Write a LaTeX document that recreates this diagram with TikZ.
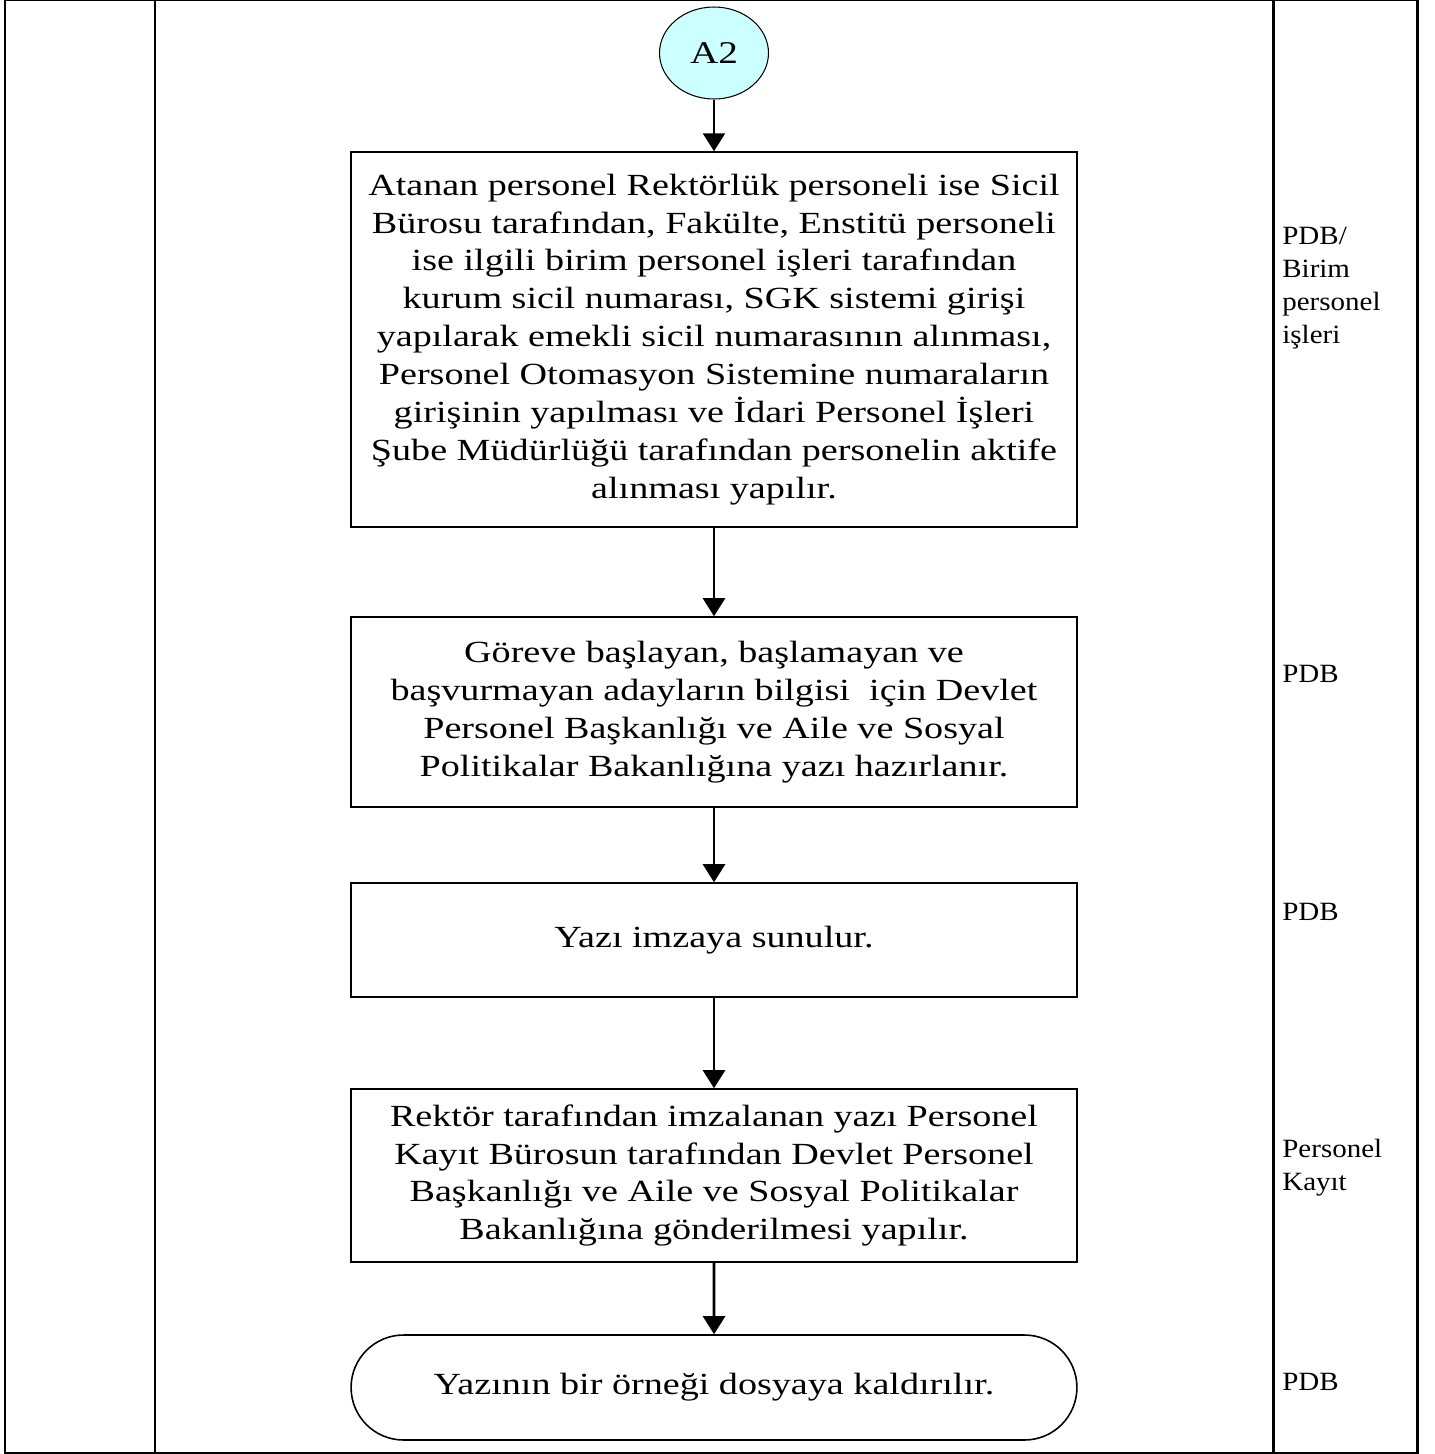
\documentclass[tikz,border=0pt]{standalone}
\usepackage{fontspec}
\setmainfont{Liberation Serif}
\newfontfamily\boxfont[FakeStretch=1.24]{Liberation Serif}
\newfontfamily\sidefont[FakeStretch=1.1]{Liberation Serif}
\usetikzlibrary{arrows.meta}
\usetikzlibrary{shapes.geometric}
\usetikzlibrary{shapes.misc}
\definecolor{connfill}{RGB}{204,255,255}

\begin{document}
\begin{tikzpicture}[x=0.02cm, y=-0.02cm,
    frame/.style={line width=1.7pt},
    process/.style={draw, line width=0.9pt, minimum width=14.52cm, inner sep=0pt,
        align=center, font=\boxfont\fontsize{17.5}{21.6}\selectfont},
    terminal/.style={process, rounded rectangle},
    connector/.style={draw, ellipse, line width=0.6pt, fill=connfill,
        minimum width=2.18cm, minimum height=1.84cm, font=\boxfont\fontsize{18}{21}\selectfont},
    flow/.style={line width=1.5pt, -{Triangle[length=0.36cm, width=0.44cm]}},
    who/.style={anchor=north west, inner sep=0pt, align=left,
        font=\sidefont\fontsize{15}{18.8}\selectfont}]
    \useasboundingbox (0, 0) rectangle (1434, 1454);
    % table frame
    \draw[frame] (5, 0) rectangle (1417, 1453);
    \draw[frame] (155, 0) -- (155, 1453);
    \draw[frame] (1273, 0) -- (1273, 1453);

    \node[connector] (a2) at (714, 53) {A2};
    \node[process, minimum height=7.5cm] (atama) at (714, 339.5)
        {Atanan personel Rektörlük personeli ise Sicil\\
         Bürosu tarafından, Fakülte, Enstitü personeli\\
         ise ilgili birim personel işleri tarafından\\
         kurum sicil numarası, SGK sistemi girişi\\
         yapılarak emekli sicil numarasının alınması,\\
         Personel Otomasyon Sistemine numaraların\\
         girişinin yapılması ve İdari Personel İşleri\\
         Şube Müdürlüğü tarafından personelin aktife\\
         alınması yapılır.};
    \node[process, minimum height=3.8cm] (yazi) at (714, 712)
        {Göreve başlayan, başlamayan ve\\
         başvurmayan adayların bilgisi \ için Devlet\\
         Personel Başkanlığı ve Aile ve Sosyal\\
         Politikalar Bakanlığına yazı hazırlanır.};
    \node[process, minimum height=2.28cm] (imza) at (714, 940) {Yazı imzaya sunulur.};
    \node[process, minimum height=3.46cm] (gonder) at (714, 1175.5)
        {Rektör tarafından imzalanan yazı Personel\\
         Kayıt Bürosun tarafından Devlet Personel\\
         Başkanlığı ve Aile ve Sosyal Politikalar\\
         Bakanlığına gönderilmesi yapılır.};
    \node[terminal, minimum height=2.1cm] (dosya) at (714, 1387.5)
        {Yazının bir örneği dosyaya kaldırılır.};

    \draw[flow] (a2) -- (atama);
    \draw[flow] (atama) -- (yazi);
    \draw[flow] (yazi) -- (imza);
    \draw[flow] (imza) -- (gonder);
    \draw[flow] (gonder) -- (dosya);

    % responsible units
    \node[who] (sorumlu1) at (1282, 227) {PDB/\\Birim\\personel\\işleri};
    \node[who] (sorumlu2) at (1282, 665) {PDB};
    \node[who] (sorumlu3) at (1282, 903) {PDB};
    \node[who] (sorumlu4) at (1282, 1139) {Personel\\Kayıt};
    \node[who] (sorumlu5) at (1282, 1373) {PDB};
\end{tikzpicture}
\end{document}
